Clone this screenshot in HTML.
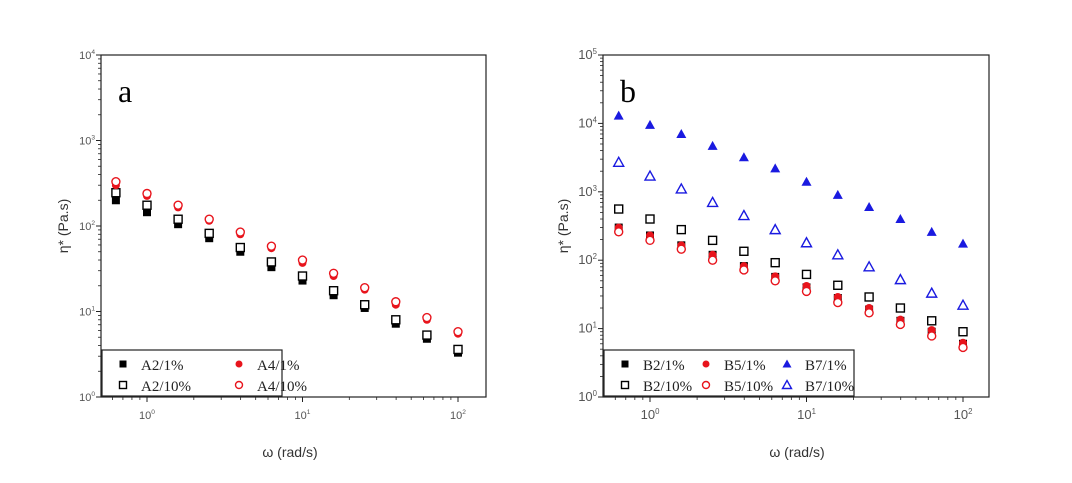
<!DOCTYPE html>
<html><head><meta charset="utf-8"><style>
body{margin:0;background:#fff;width:1072px;height:483px;overflow:hidden}
svg{display:block}
text{font-family:"Liberation Sans",sans-serif}
text.serif{font-family:"Liberation Serif",serif}
</style></head><body>
<svg id="s" width="1072" height="483"></svg>
<script>
const omega=[0.631,1,1.585,2.512,3.981,6.31,10,15.85,25.12,39.81,63.1,100];
const a2_1=[200,145,105,72,50,33,23,15.5,11,7.2,4.8,3.3];
const a2_10=[245,175,120,82,56,38,26,17.5,12,8,5.3,3.6];
const a4_1=[300,225,165,115,80,55,37,26,18,12,8,5.5];
const a4_10=[330,240,175,120,85,58,40,28,19,13,8.5,5.8];
const b2_1=[300,230,165,120,82,57,40,28,19,13,9,6];
const b2_10=[560,400,280,195,135,92,62,43,29,20,13,9];
const b5_1=[300,230,165,120,82,58,42,29,20,13.5,9.5,6.2];
const b5_10=[260,195,145,100,72,50,35,24,17,11.5,7.8,5.3];
const b7_1=[13000,9500,7000,4700,3200,2200,1400,900,600,400,260,175];
const b7_10=[2700,1700,1100,700,450,280,180,120,80,52,33,22];
const xTicks=[0,1,2];

const NS="http://www.w3.org/2000/svg",S=document.getElementById('s');
function el(t,a,p){const e=document.createElementNS(NS,t);for(const k in a)e.setAttribute(k,a[k]);(p||S).appendChild(e);return e;}

function panel(P){
  const g=el('g',{});
  
  
  const X=v=>P.x0+P.xd*Math.log10(v), Y=v=>P.bot-(P.bot-P.top)/P.dec*Math.log10(v);
  const fr=el('rect',{x:P.left,y:P.top,width:P.right-P.left,height:P.bot-P.top,fill:'none',stroke:'#222','stroke-width':1.2},g);
  
  
  for(let d=0;d<=P.dec;d++){
    const y=Y(Math.pow(10,d));
    el('line',{x1:P.left-5,x2:P.left,y1:y,y2:y,stroke:'#222'},g);
    const t=el('text',{x:P.left-6,y:y+4,'text-anchor':'end','font-size':P.tfs,fill:'#555'},g);
    
    
    t.innerHTML='10<tspan dy="-5" font-size="'+(P.tfs*0.6)+'">'+d+'</tspan>';
    if(d<P.dec)for(let m=2;m<10;m++){const yy=Y(m*Math.pow(10,d));el('line',{x1:P.left-3,x2:P.left,y1:yy,y2:yy,stroke:'#222','stroke-width':0.8},g);}
  }
  for(const d of xTicks){
    const x=X(Math.pow(10,d));
    el('line',{x1:x,x2:x,y1:P.bot,y2:P.bot+5,stroke:'#222'},g);
    const t=el('text',{x:x,y:P.bot+22,'text-anchor':'middle','font-size':P.tfs,fill:'#555'},g);
    
    
    t.innerHTML='10<tspan dy="-5" font-size="'+(P.tfs*0.6)+'">'+d+'</tspan>';
  }
  for(let d=-1;d<=2;d++)for(let m=2;m<10;m++){const x=X(m*Math.pow(10,d));if(x>P.left&&x<P.right)el('line',{x1:x,x2:x,y1:P.bot,y2:P.bot+3,stroke:'#222','stroke-width':0.8},g);}
  const xt=el('text',{x:P.xtx,y:457,'text-anchor':'middle','font-size':14,fill:'#333'},g);
  
  
  xt.textContent='ω (rad/s)';
  const yt=el('text',{x:0,y:0,transform:'translate('+P.ytx+','+(P.top+P.bot)/2+') rotate(-90)','text-anchor':'middle','font-size':14,fill:'#333'},g);
  
  
  yt.textContent='η* (Pa.s)';
  const lab=el('text',{x:P.left+17,y:102,'font-size':32,fill:'#000','class':'serif'},g);
  
  
  lab.textContent=P.label;
  const lg=el('g',{},g);
  
  
  el('rect',{x:P.left+1,y:P.bot-47,width:P.lw,height:46,fill:'#fff',stroke:'#222','stroke-width':1.2},lg);
  P.series.forEach((s,i)=>{
    const col=Math.floor(i/2),row=i%2;
    const mx=P.left+22+col*P.lcol,my=P.bot-33+row*21;
    const le=el('g',{},lg);
    
    
    marker(le,s,mx,my,P.ms-1);
    const t=el('text',{x:mx+18,y:my+6,'font-size':15,fill:'#222','class':'serif'},le);
    t.textContent=s.n;
  });
  P.series.forEach(s=>{
    const sg=el('g',{},g);
    
    
    s.d.forEach((v,i)=>{marker(sg,s,X(omega[i]),Y(v),P.ms);});
  });
}
function marker(p,s,x,y,sz){
  const h=sz/2;let e;
  if(s.m==='s')e=el('rect',{x:x-h,y:y-h,width:sz,height:sz},p);
  else if(s.m==='c')e=el('circle',{cx:x,cy:y,r:h},p);
  else e=el('polygon',{points:`${x},${y-h-1} ${x+h+1},${y+h} ${x-h-1},${y+h}`},p);
  if(s.f){e.setAttribute('fill',s.c);}else{e.setAttribute('fill','#fff');e.setAttribute('stroke',s.c);e.setAttribute('stroke-width',1.4);}
  
  
  return e;
}
const RED='#e8141c',BLUE='#1a1ae0';
panel({name:'panel-a',label:'a',left:101,right:486,top:55,bot:397,dec:4,x0:147,xd:155.5,tfs:11,xtx:290,ytx:68,lw:180,lcol:116,ms:8,
  series:[{n:'A2/1%',d:a2_1,m:'s',f:1,c:'#000'},{n:'A2/10%',d:a2_10,m:'s',f:0,c:'#000'},
          {n:'A4/1%',d:a4_1,m:'c',f:1,c:RED},{n:'A4/10%',d:a4_10,m:'c',f:0,c:RED}]});
panel({name:'panel-b',label:'b',left:603,right:989,top:55,bot:397,dec:5,x0:650,xd:156.5,tfs:13,xtx:797,ytx:568,lw:250,lcol:81,ms:8,
  series:[{n:'B2/1%',d:b2_1,m:'s',f:1,c:'#000'},{n:'B2/10%',d:b2_10,m:'s',f:0,c:'#000'},
          {n:'B5/1%',d:b5_1,m:'c',f:1,c:RED},{n:'B5/10%',d:b5_10,m:'c',f:0,c:RED},
          {n:'B7/1%',d:b7_1,m:'t',f:1,c:BLUE},{n:'B7/10%',d:b7_10,m:'t',f:0,c:BLUE}]});
</script>
</body></html>
